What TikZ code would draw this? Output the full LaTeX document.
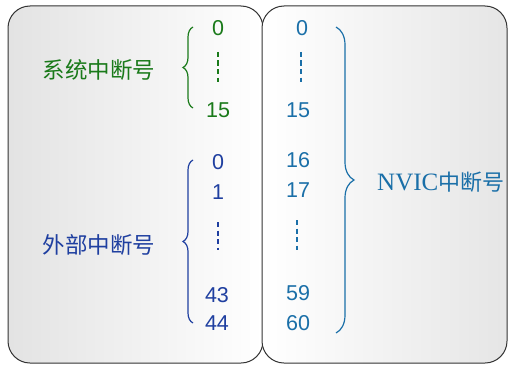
\documentclass[tikz,border=0pt]{standalone}
\usepackage{fontspec}
\setmainfont{Liberation Serif}
\newfontfamily\cjk{Noto Sans CJK SC}
\newfontfamily\numfont{Liberation Sans}
\usetikzlibrary{decorations.pathreplacing}
\definecolor{sysgreen}{RGB}{26,122,26}
\definecolor{extblue}{RGB}{31,63,160}
\definecolor{nvicblue}{RGB}{26,111,168}
\begin{document}
\begin{tikzpicture}[x=1pt,y=1pt,
  panel/.style={draw=black!80, line width=1pt, rounded corners=22pt},
  numlbl/.style={font=\numfont\fontsize{21.5}{21.5}\selectfont, inner sep=0pt, anchor=center},
  grouplbl/.style={font=\cjk\fontsize{22.5}{22.5}\selectfont, inner sep=0pt},
  vdots/.style={line width=1.8pt, dash pattern=on 5pt off 3.5pt},
  lbrace/.style={line width=1.2pt, decorate, decoration={brace, amplitude=10pt}},
  rbrace/.style={line width=1.2pt, decorate, decoration={brace, amplitude=18pt}}
]
\useasboundingbox (0,0) rectangle (508,365);
% panels
\path[panel, left color=black!11, right color=white] (8,2) rectangle (263,359);
\path[panel, left color=white, right color=black!10] (262,2) rectangle (507,359);

% system interrupts (green)
\node[numlbl, text=sysgreen] (s0) at (218,337) {0};
\node[numlbl, text=sysgreen] (s15) at (218,255) {15};
\coordinate (sd1) at (218,313);
\coordinate (sd2) at (218,283);
\draw[vdots, sysgreen] (sd1) -- (sd2);
\coordinate (sb1) at (193,257);
\coordinate (sb2) at (193,338);
\draw[lbrace, sysgreen] (sb1) -- (sb2);
\node[grouplbl, text=sysgreen] (sys) at (99,295) {系统中断号};

% external interrupts (blue)
\node[numlbl, text=extblue] (e0) at (218,203) {0};
\node[numlbl, text=extblue] (e1) at (218,173) {1};
\coordinate (ed1) at (218,143);
\coordinate (ed2) at (218,115);
\draw[vdots, extblue] (ed1) -- (ed2);
\node[numlbl, text=extblue] (e43) at (217,70) {43};
\node[numlbl, text=extblue] (e44) at (217,42) {44};
\coordinate (eb1) at (193,42);
\coordinate (eb2) at (193,205);
\draw[lbrace, extblue] (eb1) -- (eb2);
\node[grouplbl, text=extblue] (ext) at (99,120) {外部中断号};

% NVIC numbers
\node[numlbl, text=nvicblue] (n0) at (302,337) {0};
\coordinate (nd1) at (301,313);
\coordinate (nd2) at (301,283);
\draw[vdots, nvicblue] (nd1) -- (nd2);
\node[numlbl, text=nvicblue] (n15) at (298,255) {15};
\node[numlbl, text=nvicblue] (n16) at (298,205) {16};
\node[numlbl, text=nvicblue] (n17) at (298,175) {17};
\coordinate (nd3) at (297,145);
\coordinate (nd4) at (297,115);
\draw[vdots, nvicblue] (nd3) -- (nd4);
\node[numlbl, text=nvicblue] (n59) at (298,72) {59};
\node[numlbl, text=nvicblue] (n60) at (298,42) {60};
\coordinate (nb1) at (336,338);
\coordinate (nb2) at (336,32);
\draw[rbrace, nvicblue] (nb1) -- (nb2);
\node[inner sep=0pt, anchor=west, text=nvicblue] (nvic) at (377,183)
  {\fontsize{25}{25}\selectfont NVIC\cjk\fontsize{22}{22}\selectfont 中断号};
\end{tikzpicture}
\end{document}
